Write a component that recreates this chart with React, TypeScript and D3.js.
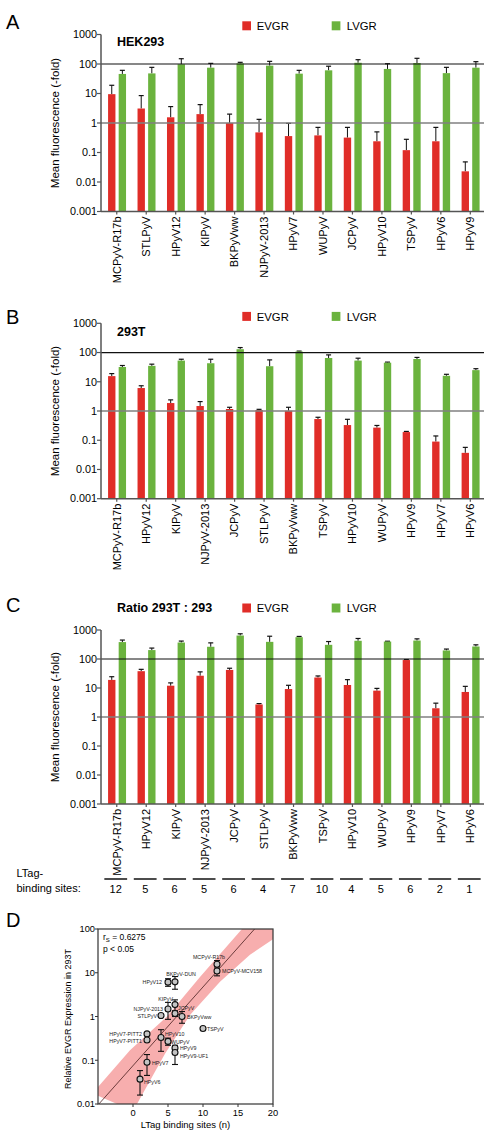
import React from "react";
import * as d3 from "d3";

const FONT = "'Liberation Sans', Arial, Helvetica, sans-serif";
const RED = "#e02d28";
const GREEN = "#6bb33e";

// ---- Panel A: HEK293 ----
const groupsA = ["MCPyV-R17b", "STLPyV", "HPyV12", "KIPyV", "BKPyVww", "NJPyV-2013", "HPyV7", "WUPyV", "JCPyV", "HPyV10", "TSPyV", "HPyV6", "HPyV9"];
const evgrA = [9.5, 3.1, 1.56, 2.0, 1.0, 0.48, 0.36, 0.38, 0.32, 0.24, 0.12, 0.24, 0.023];
const evgrSdA = [9.5, 5.4, 2.04, 2.2, 1.0, 0.85, 0.61, 0.33, 0.39, 0.26, 0.16, 0.47, 0.025];
const lvgrA = [46, 48, 98, 75, 105, 88, 47, 61, 110, 68, 108, 49, 75];
const lvgrSdA = [15, 29, 53, 30, 9, 35, 14, 23, 30, 34, 48, 28, 45];

// ---- Panel B: 293T ----
const groupsB = ["MCPyV-R17b", "HPyV12", "KIPyV", "NJPyV-2013", "JCPyV", "STLPyV", "BKPyVww", "TSPyV", "HPyV10", "WUPyV", "HPyV9", "HPyV7", "HPyV6"];
const evgrB = [15.6, 6.1, 1.87, 1.48, 1.17, 1.08, 1.02, 0.53, 0.33, 0.27, 0.19, 0.09, 0.037];
const evgrSdB = [3.4, 1.2, 0.53, 0.62, 0.17, 0.06, 0.32, 0.08, 0.19, 0.05, 0.01, 0.05, 0.02];
const lvgrB = [32, 35, 53, 43, 130, 34, 108, 65, 53, 45, 60, 16, 25];
const lvgrSdB = [4, 5, 6, 16, 18, 22, 4, 18, 11, 2, 8, 2, 3];

// ---- Panel C: ratio 293T : 293 ----
const groupsC = groupsB;
const evgrC = [19, 38, 12, 26.5, 42, 2.7, 9.2, 23, 12.7, 8.1, 92, 2.0, 7.3];
const evgrSdC = [5.5, 6, 3, 9.5, 6, 0.2, 3.2, 3, 6.7, 1.6, 4, 1.0, 4.1];
const lvgrC = [383, 203, 370, 264, 645, 390, 565, 308, 425, 400, 433, 197, 270];
const lvgrSdC = [67, 35, 45, 96, 95, 220, 35, 92, 85, 10, 62, 23, 38];
const bindingSites = [12, 5, 6, 5, 6, 4, 7, 10, 4, 5, 6, 2, 1];

const barTicks = [0.001, 0.01, 0.1, 1, 10, 100, 1000];
const barTickLabels = ["0.001", "0.01", "0.1", "1", "10", "100", "1000"];

// ---- Panel D: EVGR in 293T vs LTag binding sites ----
const isolates = ["MCPyV-R17b", "MCPyV-MCV158", "BKPyV-DUN", "HPyV12", "KIPyV", "NJPyV-2013", "STLPyV", "JCPyV", "BKPyVww", "TSPyV", "HPyV7-PITT2", "HPyV7-PITT1", "HPyV10", "WUPyV", "HPyV9", "HPyV9-UF1", "HPyV7", "HPyV6"];
const isolateSites = [12, 12, 6, 5, 6, 5, 4, 6, 7, 10, 2, 2, 4, 5, 6, 6, 2, 1];
const isolateExpr = [15.6, 11, 6.2, 6.1, 1.87, 1.48, 1.05, 1.17, 1.0, 0.53, 0.4, 0.29, 0.33, 0.27, 0.19, 0.15, 0.09, 0.037];
const isolateSd = [3.4, 2.5, 2.0, 1.2, 0.53, 0.62, 0.06, 0.17, 0.3, 0.04, 0, 0, 0.17, 0.05, 0.02, 0.07, 0.045, 0.021];
const fitLine: [number, number][] = [[-5, 0.0095], [18, 130]];
const bandUpper: [number, number][] = [[-6, 0.018], [-5, 0.0245], [-0.43, 0.17], [4.86, 1.0], [9.57, 8.0], [15.57, 100], [17, 190]];
const bandLower: [number, number][] = [[0, 0.007], [0.57, 0.01], [4.57, 0.14], [8.14, 1.08], [12.43, 6.2], [16.71, 25.7], [21, 75]];
const sitesTicks = [0, 5, 10, 15, 20];
const exprTicks = [0.01, 0.1, 1, 10, 100];
const exprTickLabels = ["0.01", "0.1", "1", "10", "100"];

// label placement around each scatter marker: [dx, dy, anchor]
const labelPlacement: Record<string, [number, number, string]> = {
  "MCPyV-R17b": [-8, -5, "middle"],
  "MCPyV-MCV158": [5, 2, "start"],
  "BKPyV-DUN": [6, -6, "middle"],
  "HPyV12": [-6, 2, "end"],
  "KIPyV": [-2, -4, "end"],
  "NJPyV-2013": [-5, 1.5, "end"],
  "STLPyV": [-4, 2, "end"],
  "JCPyV": [3, -4, "start"],
  "BKPyVww": [5, 2, "start"],
  "TSPyV": [4, 2, "start"],
  "HPyV7-PITT2": [-5, 2.5, "end"],
  "HPyV7-PITT1": [-5, 3, "end"],
  "HPyV10": [4, -2, "start"],
  "WUPyV": [3, 3, "start"],
  "HPyV9": [5, 2, "start"],
  "HPyV9-UF1": [5, 5, "start"],
  "HPyV7": [5, 3, "start"],
  "HPyV6": [4, 5, "start"],
};

type BarPanelProps = {
  letter: string;
  letterY: number;
  title: string;
  titleY: number;
  legendY: number;
  legendX: number;
  top: number;
  bottom: number;
  groups: string[];
  evgr: number[];
  evgrSd: number[];
  lvgr: number[];
  lvgrSd: number[];
};

const AX_LEFT = 101;
const AX_RIGHT = 484;

function BarPanel(p: BarPanelProps) {
  const y = d3.scaleLog().domain([0.001, 1000]).range([p.bottom, p.top]);
  const x = d3.scaleBand().domain(p.groups).range([AX_LEFT, AX_RIGHT]);
  const bw = x.bandwidth();
  const barW = bw * 0.25;
  const redOff = bw * 0.24;
  const greenOff = bw * 0.6;
  const base = y(0.001);
  const axisColor = "#555";

  const bar = (g: string, v: number, sd: number, off: number, color: string, key: string) => {
    const x0 = (x(g) as number) + off;
    const cx = x0 + barW / 2;
    const yv = y(v);
    const ye = y(v + sd);
    return (
      <g key={key}>
        <line x1={cx} x2={cx} y1={yv} y2={ye} stroke="#111" strokeWidth={1} />
        <line x1={cx - 2.5} x2={cx + 2.5} y1={ye} y2={ye} stroke="#111" strokeWidth={1.2} />
        <rect x={x0} y={yv} width={barW} height={base - yv} fill={color} />
      </g>
    );
  };

  return (
    <g fontFamily={FONT}>
      <text x={6} y={p.letterY} fontSize={20}>{p.letter}</text>
      <text x={117} y={p.titleY} fontSize={12.5} fontWeight="bold">{p.title}</text>
      <rect x={p.legendX} y={p.legendY - 8.7} width={8.7} height={9} fill={RED} />
      <text x={p.legendX + 14.5} y={p.legendY} fontSize={11.3}>EVGR</text>
      <rect x={p.legendX + 89.4} y={p.legendY - 8.7} width={8.7} height={9} fill={GREEN} />
      <text x={p.legendX + 104.4} y={p.legendY} fontSize={11.3}>LVGR</text>

      {p.groups.map((g, i) => bar(g, p.evgr[i], p.evgrSd[i], redOff, RED, "r" + i))}
      {p.groups.map((g, i) => bar(g, p.lvgr[i], p.lvgrSd[i], greenOff, GREEN, "g" + i))}

      <line x1={AX_LEFT} x2={AX_RIGHT} y1={y(100)} y2={y(100)} stroke="#111" strokeWidth={1.2} />
      <line x1={AX_LEFT} x2={AX_RIGHT} y1={y(1)} y2={y(1)} stroke="#808080" strokeWidth={1.5} />

      <line x1={AX_LEFT} x2={AX_LEFT} y1={y(1000)} y2={base} stroke={axisColor} strokeWidth={1.5} />
      <line x1={AX_LEFT} x2={AX_RIGHT} y1={base} y2={base} stroke={axisColor} strokeWidth={1.5} />
      {barTicks.map((t, i) => (
        <g key={"t" + i}>
          <line x1={AX_LEFT - 4} x2={AX_LEFT} y1={y(t)} y2={y(t)} stroke={axisColor} strokeWidth={1.2} />
          <text x={AX_LEFT - 4} y={y(t)} dy="0.35em" textAnchor="end" fontSize={10.8}>{barTickLabels[i]}</text>
        </g>
      ))}
      {p.groups.map((g, i) => {
        const cx = (x(g) as number) + bw * 0.535;
        return (
          <g key={"x" + i}>
            <line x1={cx} x2={cx} y1={base} y2={base + 3} stroke={axisColor} strokeWidth={1.2} />
            <text transform={`translate(${cx},${base + 5}) rotate(-90)`} dy="0.35em" textAnchor="end" fontSize={11}>{g}</text>
          </g>
        );
      })}
      <text transform={`translate(55,${(y(1000) + base) / 2}) rotate(-90)`} dy="0.35em" textAnchor="middle" fontSize={11.5}>
        Mean fluorescence (-fold)
      </text>
    </g>
  );
}

function ScatterPanel() {
  const x = d3.scaleLinear().domain([-5, 20]).range([98, 273]);
  const y = d3.scaleLog().domain([0.01, 100]).range([1104, 929]);
  const toPx = (pt: [number, number]): [number, number] => [x(pt[0]), y(pt[1])];
  const bandPts = [...bandUpper.map(toPx), ...bandLower.slice().reverse().map(toPx)];
  const bandPath = d3.line().curve(d3.curveLinearClosed)(bandPts) as string;
  const fitPath = d3.line()(fitLine.map(toPx)) as string;
  const frame = "#333";

  return (
    <g fontFamily={FONT}>
      <defs>
        <clipPath id="scatterClip">
          <rect x={98} y={929} width={175} height={175} />
        </clipPath>
      </defs>
      <text x={6} y={926.7} fontSize={20}>D</text>
      <g clipPath="url(#scatterClip)">
        <path d={bandPath} fill="#f6a5a5" opacity={0.9} />
        <path d={fitPath} fill="none" stroke="#4a2020" strokeWidth={0.8} />
      </g>
      <rect x={98} y={929} width={175} height={175} fill="none" stroke={frame} strokeWidth={1.2} />
      {exprTicks.map((t, i) => (
        <g key={"ey" + i}>
          <line x1={95} x2={98} y1={y(t)} y2={y(t)} stroke={frame} strokeWidth={1} />
          <text x={95} y={y(t)} dy="0.35em" textAnchor="end" fontSize={9.3}>{exprTickLabels[i]}</text>
        </g>
      ))}
      {sitesTicks.map((t, i) => (
        <g key={"sx" + i}>
          <line x1={x(t)} x2={x(t)} y1={1104} y2={1107} stroke={frame} strokeWidth={1} />
          <text x={x(t)} y={1116} textAnchor="middle" fontSize={9.3}>{t}</text>
        </g>
      ))}
      <text x={185.5} y={1128} textAnchor="middle" fontSize={9.5}>LTag binding sites (n)</text>
      <text transform="translate(68,1019) rotate(-90)" dy="0.35em" textAnchor="middle" fontSize={9}>
        Relative EVGR Expression in 293T
      </text>
      <text x={103} y={940} fontSize={8.5}>
        <tspan>r</tspan>
        <tspan dy={2} fontSize={6}>S</tspan>
        <tspan dy={-2}> = 0.6275</tspan>
      </text>
      <text x={103} y={952} fontSize={8.5}>p &lt; 0.05</text>

      {isolates.map((name, i) => {
        const cx = x(isolateSites[i]);
        const sd = isolateSd[i];
        const lo = Math.max(isolateExpr[i] - sd, 0.0101);
        const hi = isolateExpr[i] + sd;
        return (
          <g key={"e" + i}>
            {sd > 0 && (
              <g stroke="#111" strokeWidth={1.1}>
                <line x1={cx} x2={cx} y1={y(lo)} y2={y(hi)} />
                <line x1={cx - 3} x2={cx + 3} y1={y(lo)} y2={y(lo)} />
                <line x1={cx - 3} x2={cx + 3} y1={y(hi)} y2={y(hi)} />
              </g>
            )}
          </g>
        );
      })}
      {isolates.map((name, i) => {
        const cx = x(isolateSites[i]);
        const cy = y(isolateExpr[i]);
        const [dx, dy, anchor] = labelPlacement[name];
        return (
          <g key={"p" + i}>
            <circle cx={cx} cy={cy} r={3} fill="#c4c4c4" stroke="#111" strokeWidth={1.1} />
            <text x={cx + dx} y={cy + dy} fontSize={5.3} textAnchor={anchor as any} fill="#222">{name}</text>
          </g>
        );
      })}
    </g>
  );
}

function BindingRow() {
  const x = d3.scaleBand().domain(groupsC).range([AX_LEFT, AX_RIGHT]);
  const bw = x.bandwidth();
  return (
    <g fontFamily={FONT} fontSize={11}>
      <text x={16.5} y={877}>LTag-</text>
      <text x={16.5} y={892}>binding sites:</text>
      {groupsC.map((g, i) => {
        const cx = (x(g) as number) + bw * 0.5;
        return (
          <g key={"b" + i}>
            <line x1={cx - 11.4} x2={cx + 11.4} y1={879} y2={879} stroke="#111" strokeWidth={1.5} />
            <text x={cx} y={892.5} textAnchor="middle">{bindingSites[i]}</text>
          </g>
        );
      })}
    </g>
  );
}

export default function App() {
  return (
    <svg
      width={488}
      height={1134}
      viewBox="0 0 488 1134"
      style={{ position: "absolute", left: 0, top: 0, background: "#fff" }}
    >
      <rect width={488} height={1134} fill="#fff" />
      <BarPanel
        letter="A" letterY={29.3} title="HEK293" titleY={45.7} legendY={30} legendX={242.3}
        top={34.5} bottom={211.5}
        groups={groupsA} evgr={evgrA} evgrSd={evgrSdA} lvgr={lvgrA} lvgrSd={lvgrSdA}
      />
      <BarPanel
        letter="B" letterY={324.3} title="293T" titleY={335.7} legendY={320.6} legendX={242.3}
        top={323.3} bottom={498.7}
        groups={groupsB} evgr={evgrB} evgrSd={evgrSdB} lvgr={lvgrB} lvgrSd={lvgrSdB}
      />
      <BarPanel
        letter="C" letterY={612} title="Ratio 293T : 293" titleY={612} legendY={612.2} legendX={242.3}
        top={630} bottom={804}
        groups={groupsC} evgr={evgrC} evgrSd={evgrSdC} lvgr={lvgrC} lvgrSd={lvgrSdC}
      />
      <BindingRow />
      <ScatterPanel />
    </svg>
  );
}
